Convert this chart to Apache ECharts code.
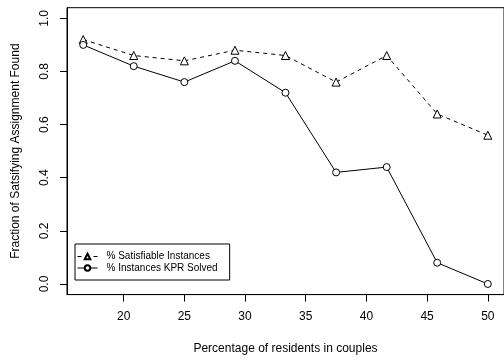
<!DOCTYPE html>
<html><head><meta charset="utf-8">
<script src="https://cdn.jsdelivr.net/npm/echarts@6/dist/echarts.min.js"></script>
<style>html,body{margin:0;padding:0;background:#fff}#c{width:504px;height:360px}</style>
</head><body><div id="c"></div>
<script>
const xValues = [16.67, 20.83, 25, 29.17, 33.33, 37.5, 41.67, 45.83, 50];
const satisfiable = [0.92, 0.86, 0.84, 0.88, 0.86, 0.76, 0.86, 0.64, 0.56];
const kprSolved = [0.90, 0.82, 0.76, 0.84, 0.72, 0.42, 0.44, 0.08, 0.00];
const xTicks = [20, 25, 30, 35, 40, 45, 50];
const yTicks = [0, 0.2, 0.4, 0.6, 0.8, 1.0];
const seriesNames = ['% Satisfiable Instances', '% Instances KPR Solved'];

const font = 'Liberation Sans, Arial, Helvetica, sans-serif';
const chart = echarts.init(document.getElementById('c'), null, {renderer: 'canvas'});
chart.setOption({
  animation: false,
  backgroundColor: '#fff',
  grid: {left: 67, top: 7.7, right: -3.6, bottom: 65.4, show: true, borderColor: '#000', borderWidth: 1, backgroundColor: 'transparent'},
  xAxis: {
    type: 'value', min: 15.333, max: 51.333,
    name: 'Percentage of residents in couples', nameLocation: 'middle', nameGap: 48,
    nameTextStyle: {fontFamily: font, fontSize: 12, color: '#000'},
    axisLine: {show: true, onZero: false, lineStyle: {color: '#000', width: 1}},
    axisTick: {show: true, length: 7, inside: false, customValues: xTicks, lineStyle: {color: '#000'}},
    axisLabel: {customValues: xTicks, margin: 16.5, fontFamily: font, fontSize: 12, color: '#000'},
    splitLine: {show: false}
  },
  yAxis: {
    type: 'value', min: -0.04, max: 1.04,
    name: 'Fraction of Satsifying Assignment Found', nameLocation: 'middle', nameGap: 45, nameRotate: 90,
    nameTextStyle: {fontFamily: font, fontSize: 12, color: '#000'},
    axisLine: {show: true, onZero: false, lineStyle: {color: '#000', width: 1}},
    axisTick: {show: true, length: 7, customValues: yTicks, lineStyle: {color: '#000'}},
    axisLabel: {customValues: yTicks, rotate: 90, margin: 16, fontFamily: font, fontSize: 12, color: '#000',
      formatter: v => v.toFixed(1)},
    splitLine: {show: false}
  },
  legend: {
    orient: 'vertical', left: 75, top: 244, padding: [7.5, 12, 7, 2],
    itemGap: 1.5, itemWidth: 20, itemHeight: 7,
    borderColor: '#000', borderWidth: 1, borderRadius: 0,
    lineStyle: {width: 1},
    textStyle: {fontFamily: font, fontSize: 10, lineHeight: 10, color: '#000', padding: [0, 0, 0, 4]},
    data: seriesNames
  },
  series: [
    {
      name: seriesNames[0], type: 'line',
      data: xValues.map((x, i) => [x, satisfiable[i]]),
      symbol: 'triangle', symbolSize: 8,
      lineStyle: {color: '#000', width: 1, type: [4, 4]},
      itemStyle: {color: '#fff', borderColor: '#000', borderWidth: 1}
    },
    {
      name: seriesNames[1], type: 'line',
      data: xValues.map((x, i) => [x, kprSolved[i]]),
      symbol: 'circle', symbolSize: 7,
      lineStyle: {color: '#000', width: 1, type: 'solid'},
      itemStyle: {color: '#fff', borderColor: '#000', borderWidth: 1}
    }
  ]
});
</script></body></html>
